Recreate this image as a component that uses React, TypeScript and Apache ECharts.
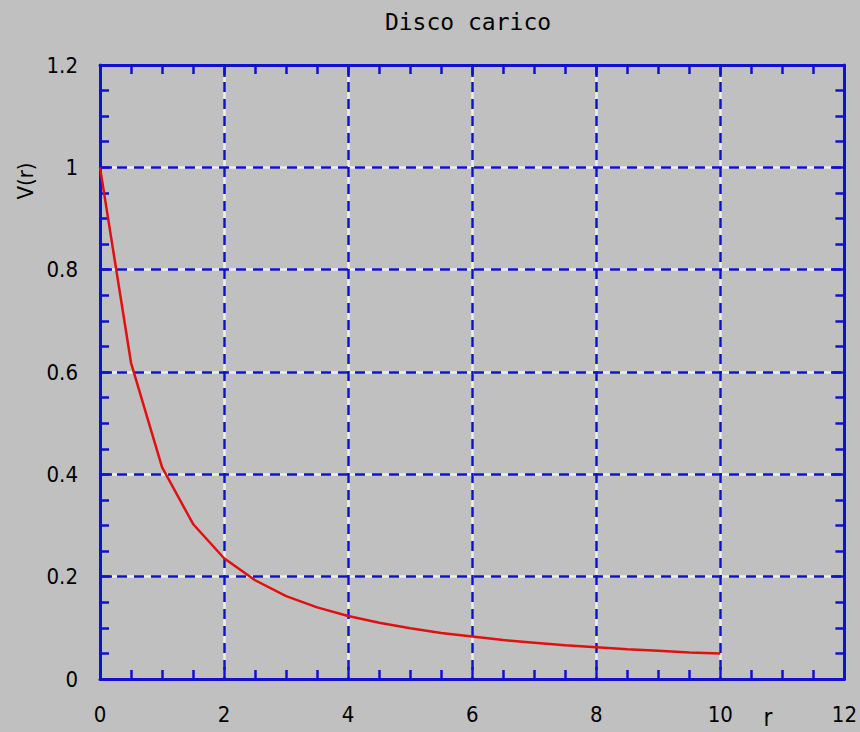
import React, { useEffect, useRef } from "react";
import * as echarts from "echarts";

const rValues = [0, 0.5, 1, 1.5, 2, 2.5, 3, 3.5, 4, 4.5, 5, 5.5, 6, 6.5, 7, 7.5, 8, 8.5, 9, 9.5, 10];
const vValues = [1.0, 0.618, 0.414, 0.303, 0.236, 0.193, 0.162, 0.14, 0.123, 0.11, 0.099, 0.09, 0.083, 0.076, 0.071, 0.066, 0.062, 0.058, 0.055, 0.052, 0.05];

const titleText = "Disco carico";
const yName = "V(r)";
const xName = "r";

const BLUE = "#1010d0";
const BG = "#c0c0c0";
const RED = "#e01010";
const LABEL_FONT = "'DejaVu Sans Condensed', 'DejaVu Sans', sans-serif";
const TITLE_FONT = "'DejaVu Sans Mono', monospace";

const fmt = (v: number) => String(Math.round(v * 10) / 10);

export default function App() {
  const ref = useRef<HTMLDivElement>(null);
  useEffect(() => {
    document.body.style.margin = "0";
    const chart = echarts.init(ref.current!, undefined, { renderer: "svg" });
    const mainAxisBase = {
      axisLine: { show: true, onZero: false, lineStyle: { color: BLUE, width: 3 } },
      axisTick: { show: true, inside: true, length: 12, lineStyle: { color: BLUE, width: 2.5 } },
      minorTick: { show: true, splitNumber: 4, length: 9, lineStyle: { color: BLUE, width: 2.5 } },
    };
    const blueSplit = {
      show: true,
      showMinLine: false,
      showMaxLine: false,
      lineStyle: { color: BLUE, width: 2.5, type: [10, 7] },
    };
    const whiteSplit = {
      show: true,
      showMinLine: false,
      showMaxLine: false,
      lineStyle: { color: "#eeeeee", width: 2.5, type: "solid" },
    };
    const labelStyle = { color: "#000", fontSize: 22, fontFamily: LABEL_FONT };
    chart.setOption({
      animation: false,
      backgroundColor: BG,
      grid: { left: 100, right: 15, top: 65, bottom: 53, containLabel: false },
      xAxis: [
        {
          type: "value", min: 0, max: 12, interval: 2, position: "bottom", z: 3,
          ...mainAxisBase,
          axisLabel: { ...labelStyle, margin: 24, formatter: fmt },
          splitLine: blueSplit,
        },
        {
          type: "value", min: 0, max: 12, interval: 2, position: "top", z: 3,
          ...mainAxisBase,
          axisLabel: { show: false },
          splitLine: { show: false },
        },
        {
          type: "value", min: 0, max: 12, interval: 2, position: "bottom", z: 1,
          axisLine: { show: false }, axisTick: { show: false }, axisLabel: { show: false },
          splitLine: whiteSplit,
        },
      ],
      yAxis: [
        {
          type: "value", min: 0, max: 1.2, interval: 0.2, position: "left", z: 3,
          ...mainAxisBase,
          axisLabel: { ...labelStyle, margin: 22, formatter: fmt },
          splitLine: blueSplit,
        },
        {
          type: "value", min: 0, max: 1.2, interval: 0.2, position: "right", z: 3,
          ...mainAxisBase,
          axisLabel: { show: false },
          splitLine: { show: false },
        },
        {
          type: "value", min: 0, max: 1.2, interval: 0.2, position: "left", z: 1,
          axisLine: { show: false }, axisTick: { show: false }, axisLabel: { show: false },
          splitLine: whiteSplit,
        },
      ],
      series: [
        {
          type: "line",
          xAxisIndex: 0,
          yAxisIndex: 0,
          data: rValues.map((r, i) => [r, vValues[i]]),
          showSymbol: false,
          symbol: "none",
          lineStyle: { color: RED, width: 2.5 },
          z: 5,
        },
      ],
      graphic: [
        {
          type: "text", x: 468, y: 22,
          style: { text: titleText, fill: "#000", font: `23px ${TITLE_FONT}`, textAlign: "center", textVerticalAlign: "middle", align: "center", verticalAlign: "middle" },
        },
        {
          type: "text", x: 25, y: 181, rotation: Math.PI / 2,
          style: { text: yName, fill: "#000", font: `22px ${LABEL_FONT}`, textAlign: "center", textVerticalAlign: "middle", align: "center", verticalAlign: "middle" },
        },
        {
          type: "text", x: 768, y: 718,
          style: { text: xName, fill: "#000", font: `24px ${LABEL_FONT}`, textAlign: "center", textVerticalAlign: "middle", align: "center", verticalAlign: "middle" },
        },
      ],
    });
    return () => chart.dispose();
  }, []);
  return <div ref={ref} style={{ width: 860, height: 732 }} />;
}
